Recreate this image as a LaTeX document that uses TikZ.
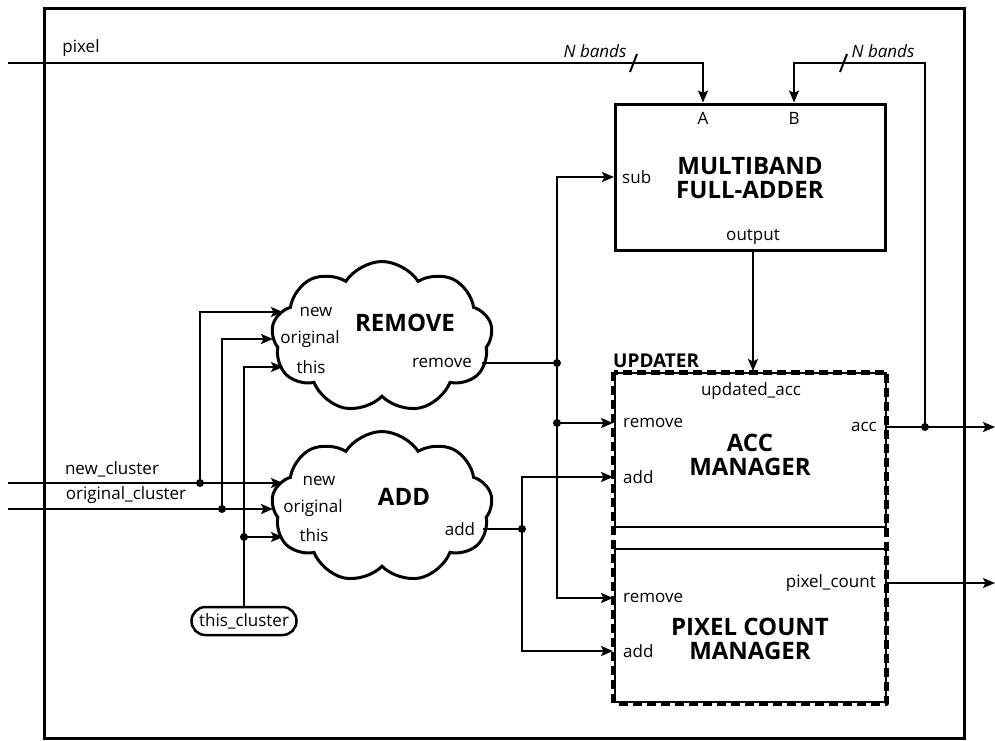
\documentclass[tikz,border=0pt]{standalone}
\usepackage{fontspec}
\setmainfont{Open Sans}
\usetikzlibrary{arrows.meta,shapes.symbols,calc}

\begin{document}
\begin{tikzpicture}[x=1pt,y=-1pt,
  font=\fontsize{17}{20}\selectfont,
  wire/.style={line width=2pt},
  arr/.style={wire,-{Stealth[length=12pt,width=10pt,inset=2.5pt]}},
  jn/.style={circle,fill,inner sep=0pt,minimum size=8pt},
  title/.style={font=\fontsize{24}{24}\selectfont\bfseries,align=center,inner sep=0pt},
  lbl/.style={inner sep=0pt},
  bus/.style={font=\fontsize{17}{20}\selectfont\itshape,inner sep=0pt},
  blob/.style={cloud,draw,line width=3pt,cloud puffs=9,cloud puff arc=115,
    cloud ignores aspect,minimum width=221pt,minimum height=151pt,inner sep=0pt},
  unit/.style={draw,line width=2pt,minimum width=271pt,inner sep=0pt},
]
\useasboundingbox (0,0) rectangle (995,740);

% enclosing frame
\draw[line width=3pt] (44,8) rectangle (964,738);

% ---------- multiband full adder ----------
\node[draw,line width=3pt,minimum width=270pt,minimum height=146pt,inner sep=0pt] (fa) at (750,177) {};
\node[title] (fat) at (750,178) {MULTIBAND\\FULL-ADDER};
\node[lbl] (faA) at (703,118) {A};
\node[lbl] (faB) at (794,118) {B};
\node[lbl,anchor=west] (fasub) at (622,177) {sub};
\node[lbl] (faout) at (753,237) {output};

% ---------- updater ----------
\node[unit,minimum height=154pt] (accm) at (750,450) {};
\node[unit,minimum height=153pt] (pcm) at (750,625.5) {};
\draw[line width=5pt,dash pattern=on 9pt off 5pt,line cap=butt,line join=round]
  (accm.north west) rectangle (pcm.south east);
\node[lbl,anchor=base west,font=\fontsize{19}{20}\selectfont\bfseries] (upd) at (613,367) {UPDATER};

\node[title] (acct) at (750,455) {ACC\\MANAGER};
\node[lbl] (accua) at (751,391) {updated\_acc};
\node[lbl,anchor=west] (accrm) at (623,423) {remove};
\node[lbl,anchor=west] (accad) at (623,477) {add};
\node[lbl,anchor=east] (accout) at (877,427) {acc};

\node[title] (pcmt) at (750,639) {PIXEL COUNT\\MANAGER};
\node[lbl,anchor=west] (pcmrm) at (623,598) {remove};
\node[lbl,anchor=west] (pcmad) at (623,651) {add};
\node[lbl,anchor=east] (pcmout) at (876,583) {pixel\_count};

% ---------- clouds ----------
\node[blob] (rm) at (382,337) {};
\node[title] (rmt) at (405,323) {REMOVE};
\node[lbl] (rmn) at (316,312) {new};
\node[lbl] (rmo) at (310,339) {original};
\node[lbl] (rmth) at (311,367) {this};
\node[lbl] (rmout) at (442,363) {remove};

\node[blob] (ad) at (382,507) {};
\node[title] (adt) at (404,497) {ADD};
\node[lbl] (adn) at (319,481) {new};
\node[lbl] (ado) at (313,508) {original};
\node[lbl] (adth) at (314,535) {this};
\node[lbl] (adout) at (460,529) {add};

% ---------- inputs ----------
\node[draw,line width=2.5pt,rounded corners=14pt,minimum width=105pt,minimum height=28pt,inner sep=0pt] (tc) at (244,621) {this\_cluster};
\node[lbl] (pxl) at (81,48) {pixel};
\node[lbl] (ncl) at (112,469) {new\_cluster};
\node[lbl] (ocl) at (126,495) {original\_cluster};
\node[bus] (nb1) at (595,51) {N bands};
\node[bus] (nb2) at (883,51) {N bands};

% wire ends and junctions
\coordinate (pxin) at (8,63);
\coordinate (ncin) at (8,483);
\coordinate (ocin) at (8,509);
\coordinate (rmN) at (283,312);
\coordinate (rmO) at (273,339);
\coordinate (rmT) at (283,367);
\coordinate (adN) at (283,483);
\coordinate (adO) at (273,509);
\coordinate (adT) at (283,537);
\coordinate (rmR) at (482,363);
\coordinate (adR) at (483,529);
\coordinate (accR) at (886,427);
\coordinate (pcmR) at (886,583);
\coordinate (accX) at (995,427);
\coordinate (pcmX) at (995,583);

\node[jn] (jn1) at (200,483) {};
\node[jn] (jo1) at (222,509) {};
\node[jn] (jt1) at (244,537) {};
\node[jn] (jr1) at (557,363) {};
\node[jn] (jr2) at (557,423) {};
\node[jn] (ja1) at (522,529) {};
\node[jn] (jacc) at (925,427) {};

% pixel bus into A
\draw[arr] (pxin) -- (703,63) -- (703,102.5);
\draw[wire] (630,72) -- (637,54);
% accumulator feedback into B
\draw[arr] (jacc.center) -- (925,63) -- (794,63) -- (794,102.5);
\draw[wire] (840,72) -- (847,54);
% adder output into updater
\draw[arr] (753,251) -- (753,371);

% cluster inputs
\draw[arr] (ncin) -- (adN);
\draw[arr] (jn1.center) -- (200,312) -- (rmN);
\draw[arr] (ocin) -- (adO);
\draw[arr] (jo1.center) -- (222,339) -- (rmO);
\draw[arr] (tc.north) -- (244,367) -- (rmT);
\draw[arr] (jt1.center) -- (adT);

% remove signal
\draw[wire] (rmR) -- (jr1.center);
\draw[arr] (jr1.center) -- (557,177) -- (614,177);
\draw[arr] (jr1.center) -- (557,598) -- (613,598);
\draw[arr] (jr2.center) -- (613,423);

% add signal
\draw[wire] (adR) -- (ja1.center);
\draw[arr] (ja1.center) -- (522,477) -- (613,477);
\draw[arr] (ja1.center) -- (522,651) -- (613,651);

% outputs
\draw[arr] (accR) -- (accX);
\draw[arr] (pcmR) -- (pcmX);
\end{tikzpicture}
\end{document}
